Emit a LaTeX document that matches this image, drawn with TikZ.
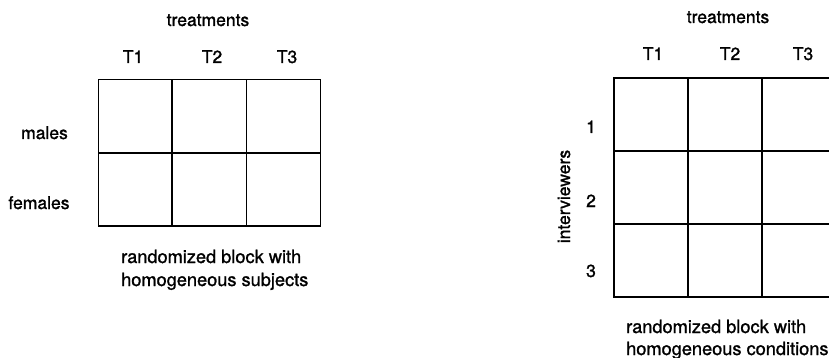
\documentclass[tikz,border=0pt]{standalone}
\usepackage{fontspec}
\setmainfont{TeX Gyre Heros}[FakeBold=1.2]
\begin{document}
\begin{tikzpicture}[x=1pt,y=-1pt,
  lbl/.style={font=\fontsize{17.5}{23}\selectfont, inner sep=0pt, anchor=base},
  captxt/.style={font=\fontsize{18.2}{23}\selectfont, inner sep=0pt, anchor=base west},
  gridline/.style={line width=1.8pt, line cap=rect}]
\useasboundingbox (0,0) rectangle (829,358);
\clip (0,0) rectangle (829,358);
% left grid
\draw[gridline] (98.5,79.5) rectangle (320.5,226);
\draw[gridline] (172,79.5) -- (172,226);
\draw[gridline] (246.5,79.5) -- (246.5,226);
\draw[gridline] (98.5,153) -- (320.5,153);
\node[lbl] (ltreat) at (208,26) {treatments};
\node[lbl] (lt1) at (133,63) {T1};
\node[lbl] (lt2) at (212,63) {T2};
\node[lbl] (lt3) at (287,63) {T3};
\node[lbl] (males) at (44.5,139) {males};
\node[lbl] (females) at (39,209) {females};
\node[captxt] (lcap1) at (121,263) {randomized block with};
\node[captxt] (lcap2) at (121,286) {homogeneous subjects};
% right grid
\draw[gridline] (614,78) rectangle (836,297);
\draw[gridline] (688,78) -- (688,297);
\draw[gridline] (762,78) -- (762,297);
\draw[gridline] (614,151) -- (836,151);
\draw[gridline] (614,224) -- (836,224);
\node[lbl] (rtreat) at (728,23) {treatments};
\node[lbl] (rt1) at (653,60) {T1};
\node[lbl] (rt2) at (730,60) {T2};
\node[lbl] (rt3) at (803,60) {T3};
\node[lbl] (r1) at (591,133) {1};
\node[lbl] (r2) at (591,207) {2};
\node[lbl] (r3) at (591,277) {3};
\node[font=\fontsize{17.5}{23}\selectfont, inner sep=0pt, anchor=base, rotate=90] (interv) at (570,196.5) {interviewers};
\node[captxt] (rcap1) at (626,333) {randomized block with};
\node[captxt] (rcap2) at (626,355) {homogeneous conditions};
\end{tikzpicture}
\end{document}
